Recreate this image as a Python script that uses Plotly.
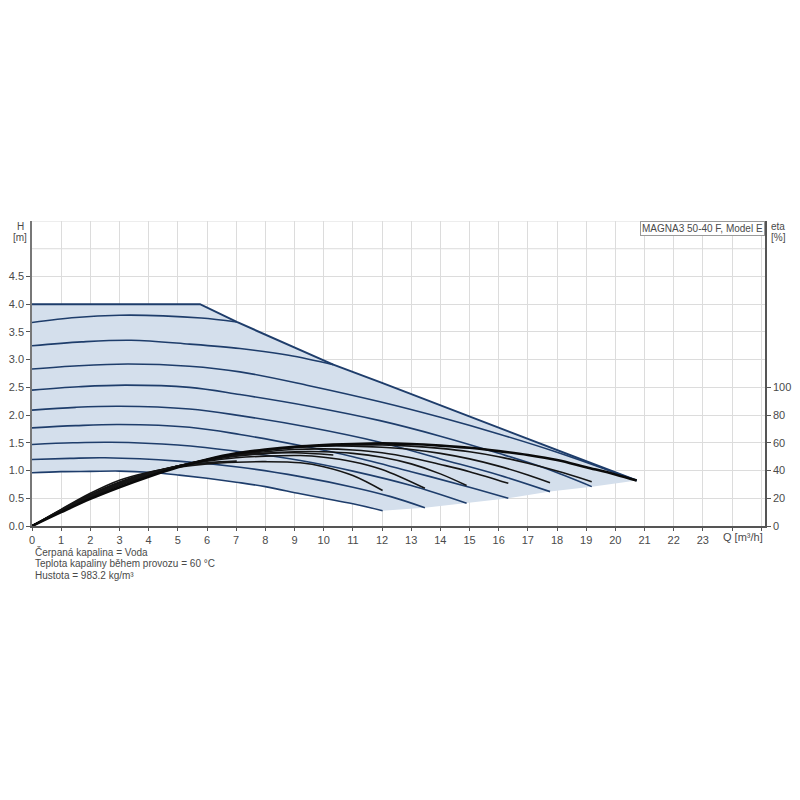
import plotly.graph_objects as go

# ---------------- data ----------------
# Max curve / operating-range boundary
q_max = [0, 5.76, 7.02, 10.33, 12.0, 20.73]
h_max = [4.0, 4.0, 3.68, 2.91, 2.58, 0.82]
# lower-right boundary of operating range (from end of lowest curve to the tip)
q_edge = [12.02, 13.47, 14.9, 16.33, 17.76, 19.19, 20.73]
h_edge = [0.276, 0.33, 0.41, 0.50, 0.62, 0.71, 0.82]

# Constant curves H [m] vs Q [m3/h]
q_c1 = [0, 1.5, 3, 4.5, 5.8, 7.02]
h_c1 = [3.67, 3.76, 3.80, 3.79, 3.75, 3.68]
q_c2 = [0, 1.7, 3.4, 5.4, 7.13, 8.8, 10.33]
h_c2 = [3.25, 3.32, 3.35, 3.28, 3.20, 3.08, 2.91]
q_c3 = [0, 1.6, 3.3, 5.4, 7.13, 9.5, 11.93, 14, 16, 18, 20.73]
h_c3 = [2.83, 2.89, 2.92, 2.88, 2.78, 2.53, 2.24, 1.96, 1.66, 1.33, 0.82]
q_c4 = [0, 1.6, 3.2, 5.4, 7.13, 9.5, 11.93, 14, 16, 17.6, 19.19]
h_c4 = [2.45, 2.51, 2.54, 2.50, 2.37, 2.16, 1.90, 1.62, 1.31, 1.04, 0.71]
q_c5 = [0, 1.5, 3, 5.4, 7.13, 9.5, 11.93, 14, 16, 17.76]
h_c5 = [2.09, 2.14, 2.16, 2.11, 1.99, 1.78, 1.51, 1.21, 0.92, 0.62]
q_c6 = [0, 1.5, 3, 5.4, 7.13, 9.2, 11, 13, 15, 16.33]
h_c6 = [1.77, 1.81, 1.83, 1.78, 1.65, 1.45, 1.25, 0.98, 0.70, 0.50]
q_c7 = [0, 1.4, 2.7, 5, 7.13, 9.2, 11, 13, 14.9]
h_c7 = [1.47, 1.50, 1.51, 1.46, 1.34, 1.18, 0.99, 0.73, 0.41]
q_c8 = [0, 1.3, 2.5, 5, 7.13, 9.2, 11, 12.3, 13.47]
h_c8 = [1.20, 1.22, 1.23, 1.17, 1.06, 0.89, 0.70, 0.53, 0.33]
q_c9 = [0, 1, 2, 3, 4, 5, 6, 7, 8, 9.2, 10, 11, 12.02]
h_c9 = [0.96, 0.98, 0.985, 0.99, 0.97, 0.92, 0.86, 0.79, 0.71, 0.58, 0.50, 0.40, 0.276]

# Efficiency curves eta [%]
q_e0 = [0, 1, 2, 3, 4, 5, 6, 7, 8, 9, 10, 11, 12, 13, 14, 15, 16, 17, 18, 19, 20, 20.73]
e_e0 = [0, 10.0, 19.6, 28.0, 35.6, 42.4, 48.0, 52.4, 55.2, 57.2, 58.4, 59.2, 59.6, 59.2, 58.0, 56.4, 54.0, 51.2, 47.6, 42.4, 37.2, 32.8]
q_e1 = [0, 1, 2, 3, 4, 5, 6, 7.02]
e_e1 = [0, 11.2, 21.6, 30.4, 37.6, 42.8, 45.6, 46.8]
q_e2 = [0, 1, 2, 3, 4, 5, 6, 7, 8, 9, 10.33]
e_e2 = [0, 10.8, 21.2, 30.0, 37.2, 43.2, 47.6, 50.8, 52.4, 52.8, 51.2]
q_e4 = [0, 1, 2, 3, 4, 5, 6, 7, 8, 9, 10, 11, 12, 13, 14, 15, 16, 17, 18, 19.19]
e_e4 = [0, 10.4, 20.4, 29.2, 36.4, 42.8, 48.0, 52.0, 54.8, 56.8, 58.0, 58.4, 58.4, 57.6, 56.0, 53.6, 50.0, 45.2, 39.6, 32.0]
q_e5 = [0, 1, 2, 3, 4, 5, 6, 7, 8, 9, 10, 11, 12, 13, 14, 15, 16, 17, 17.76]
e_e5 = [0, 10.8, 21.2, 30.0, 37.2, 43.2, 48.0, 51.6, 54.4, 56.4, 57.6, 57.6, 56.8, 55.2, 52.4, 48.4, 43.2, 36.8, 31.2]
q_e6 = [0, 1, 2, 3, 4, 5, 6, 7, 8, 9, 10, 11, 12, 13, 14, 15, 16.33]
e_e6 = [0, 11.0, 21.6, 30.4, 37.6, 43.2, 47.6, 51.2, 53.6, 55.2, 55.6, 54.8, 52.8, 49.2, 44.4, 39.2, 30.8]
q_e7 = [0, 1, 2, 3, 4, 5, 6, 7, 8, 9, 10, 11, 12, 13, 14, 14.9]
e_e7 = [0, 11.4, 22.2, 31.2, 38.0, 43.2, 47.2, 50.4, 52.4, 53.6, 53.6, 52.4, 49.6, 44.8, 37.6, 29.2]
q_e8 = [0, 1, 2, 3, 4, 5, 6, 7, 8, 9.2, 10, 11, 12, 13.47]
e_e8 = [0, 11.8, 22.8, 31.8, 38.4, 43.2, 46.8, 49.2, 50.4, 50.8, 49.6, 46.4, 40.8, 27.2]
q_e9 = [0, 1, 2, 3, 4, 5, 6, 7, 8, 9.2, 10, 11, 12.02]
e_e9 = [0, 12.0, 23.6, 33.0, 38.8, 42.4, 44.8, 46.0, 46.4, 45.6, 42.8, 36.4, 25.6]

x_ticks = list(range(0, 26))
x_ticktext = [str(v) for v in range(0, 24)] + ["", ""]
y_ticks = [0, 0.5, 1.0, 1.5, 2.0, 2.5, 3.0, 3.5, 4.0, 4.5]
eta_ticks = [0, 20, 40, 60, 80, 100]

title_box = "MAGNA3 50-40 F, Model E"
notes = ["Čerpaná kapalina = Voda",
         "Teplota kapaliny během provozu = 60 °C",
         "Hustota = 983.2 kg/m³"]

# ---------------- figure ----------------
# The page body has an 8 px margin, so the figure is 792 px and placed at (8, 8).
OFF = 8
W, H = 792, 792
PL, PR, PT, PB = 32, 765, 221, 526          # wanted plot-area edges on the page
L, R, T, B = PL - OFF, W + OFF - PR, PT - OFF, H + OFF - PB
FONT = "Liberation Sans, Arial, sans-serif"
LINE = "#1e3d6b"
FILL = "#d4dfec"
TXT = "#4a4a4a"


def xp(px):
    return (px - PL) / (PR - PL)


def yp(py):
    return (PB - py) / (PB - PT)


fig = go.Figure()

# shaded operating range
poly_q = q_max + q_edge[::-1][1:] + q_c9[::-1][1:]
poly_h = h_max + h_edge[::-1][1:] + h_c9[::-1][1:]
fig.add_trace(go.Scatter(x=poly_q, y=poly_h, fill="toself", fillcolor=FILL,
                         mode="lines", line=dict(width=0), hoverinfo="skip",
                         showlegend=False))

# max curve outline
fig.add_trace(go.Scatter(x=q_max, y=h_max, mode="lines",
                         line=dict(color=LINE, width=2), showlegend=False))

for qq, hh in [(q_c1, h_c1), (q_c2, h_c2), (q_c3, h_c3), (q_c4, h_c4), (q_c5, h_c5),
               (q_c6, h_c6), (q_c7, h_c7), (q_c8, h_c8), (q_c9, h_c9)]:
    fig.add_trace(go.Scatter(x=qq, y=hh, mode="lines",
                             line=dict(color=LINE, width=1.6, shape="spline", smoothing=1.0),
                             showlegend=False))

for qq, ee in [(q_e9, e_e9), (q_e8, e_e8), (q_e7, e_e7), (q_e6, e_e6), (q_e5, e_e5),
               (q_e4, e_e4), (q_e2, e_e2), (q_e1, e_e1)]:
    fig.add_trace(go.Scatter(x=qq, y=ee, mode="lines", yaxis="y2",
                             line=dict(color="#151515", width=1.6, shape="spline", smoothing=1.0),
                             showlegend=False))
fig.add_trace(go.Scatter(x=q_e0, y=e_e0, mode="lines", yaxis="y2",
                         line=dict(color="#0a0a0a", width=2.6, shape="spline", smoothing=1.0),
                         showlegend=False))

annotations = [
    dict(text="H", x=xp(20), y=yp(226), xref="paper", yref="paper", showarrow=False,
         font=dict(family=FONT, size=10, color=TXT), xanchor="center", yanchor="middle"),
    dict(text="[m]", x=xp(20), y=yp(237), xref="paper", yref="paper", showarrow=False,
         font=dict(family=FONT, size=10, color=TXT), xanchor="center", yanchor="middle"),
    dict(text="eta", x=xp(778), y=yp(226), xref="paper", yref="paper", showarrow=False,
         font=dict(family=FONT, size=10, color=TXT), xanchor="center", yanchor="middle"),
    dict(text="[%]", x=xp(778), y=yp(237), xref="paper", yref="paper", showarrow=False,
         font=dict(family=FONT, size=10, color=TXT), xanchor="center", yanchor="middle"),
    dict(text="Q [m³/h]", x=xp(743), y=yp(537), xref="paper", yref="paper", showarrow=False,
         font=dict(family=FONT, size=11, color=TXT), xanchor="center", yanchor="middle"),
    dict(text=title_box, x=1, y=1, xref="paper", yref="paper", showarrow=False,
         xanchor="right", yanchor="top", bgcolor="white", bordercolor="#9a9a9a",
         borderwidth=1, borderpad=1, font=dict(family=FONT, size=10, color=TXT)),
]
for i, t in enumerate(notes):
    annotations.append(dict(text=t, x=xp(33), y=yp(552 + i * 11.7), xref="paper", yref="paper",
                            showarrow=False, xanchor="left", yanchor="middle",
                            font=dict(family=FONT, size=10, color=TXT)))

fig.update_layout(
    width=W, height=H, margin=dict(l=L, r=R, t=T, b=B, pad=0, autoexpand=False),
    paper_bgcolor="white", plot_bgcolor="white",
    font=dict(family=FONT, size=10, color=TXT),
    showlegend=False,
    xaxis=dict(range=[0, 25.13], tickmode="array", tickvals=x_ticks, ticktext=x_ticktext,
               automargin=False,
               showgrid=True, gridcolor="#dcdcdc", gridwidth=1, zeroline=False,
               showline=True, linecolor="#555", linewidth=1.5,
               ticks="outside", ticklen=3, tickcolor="#555",
               tickfont=dict(family=FONT, size=11, color=TXT)),
    yaxis=dict(range=[0, 5.5], tickmode="array", tickvals=y_ticks, tickformat=".1f",
               automargin=False,
               showgrid=True, gridcolor="#dcdcdc", gridwidth=1, zeroline=False,
               showline=True, linecolor="#777", linewidth=1.5,
               ticks="outside", ticklen=4, tickcolor="#555",
               tickfont=dict(family=FONT, size=11, color=TXT)),
    yaxis2=dict(range=[0, 220], overlaying="y", side="right", tickmode="array",
                tickvals=eta_ticks, showgrid=False, zeroline=False, automargin=False,
                showline=True, linecolor="#555", linewidth=1.5,
                ticks="outside", ticklen=4, tickcolor="#555",
                tickfont=dict(family=FONT, size=11, color=TXT)),
    annotations=annotations,
)
# grid lines above 4.5 (5.0, 5.5)
for gy in [5.0, 5.5]:
    fig.add_shape(type="line", xref="paper", x0=0, x1=1, yref="y", y0=gy, y1=gy,
                  line=dict(color="#dcdcdc", width=1), layer="below")

fig.write_html("out.html")
